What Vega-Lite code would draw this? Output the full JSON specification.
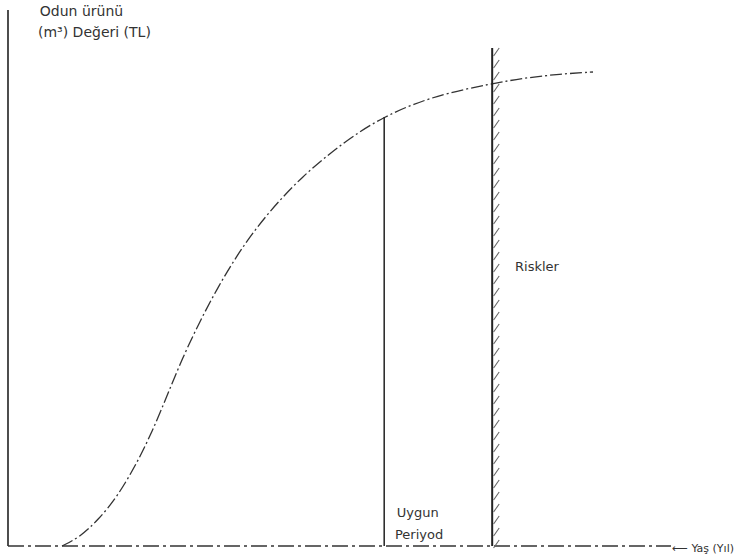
{
  "$schema": "https://vega.github.io/schema/vega-lite/v6.json",
  "width": 735,
  "height": 559,
  "autosize": {"type": "fit", "contains": "padding"},
  "padding": 0,
  "background": "white",
  "config": {"view": {"stroke": null}},
  "encoding": {
    "x": {"field": "age", "type": "quantitative", "scale": {"domain": [-1.333, 121.17], "nice": false, "zero": false}, "axis": null},
    "y": {"field": "value", "type": "quantitative", "scale": {"domain": [-2.6, 109.2], "nice": false, "zero": false}, "axis": null}
  },
  "layer": [
    {
      "data": {"values": [{"age": 0, "value": 0, "value2": 107.2}]},
      "mark": {"type": "rule", "color": "#222", "strokeWidth": 1.6},
      "encoding": {"y2": {"field": "value2"}}
    },
    {
      "data": {"values": [{"age": 0, "age2": 110.5, "value": 0}]},
      "mark": {"type": "rule", "color": "#333", "strokeWidth": 1.4, "strokeDash": [16, 4, 3, 4]},
      "encoding": {"x2": {"field": "age2"}}
    },
    {
      "data": {"values": [
        {"age": 9.0, "value": 0},
        {"age": 12.0, "value": 1.8},
        {"age": 15.0, "value": 5.2},
        {"age": 18.2, "value": 9.8},
        {"age": 21.5, "value": 16.6},
        {"age": 24.0, "value": 22.8},
        {"age": 26.5, "value": 30.0},
        {"age": 29.0, "value": 37.4},
        {"age": 32.0, "value": 45.0},
        {"age": 35.0, "value": 51.8},
        {"age": 38.2, "value": 58.2},
        {"age": 41.5, "value": 63.8},
        {"age": 45.0, "value": 68.8},
        {"age": 49.0, "value": 73.8},
        {"age": 53.7, "value": 78.6},
        {"age": 58.2, "value": 82.6},
        {"age": 62.7, "value": 85.8},
        {"age": 67.5, "value": 88.4},
        {"age": 73.2, "value": 90.6},
        {"age": 80.3, "value": 92.4},
        {"age": 86.0, "value": 93.6},
        {"age": 92.0, "value": 94.4},
        {"age": 97.5, "value": 94.8}
      ]},
      "mark": {"type": "line", "interpolate": "basis", "color": "#333", "strokeWidth": 1.3, "strokeDash": [12, 3, 2, 3]},
      "encoding": {"order": {"field": "age", "type": "quantitative"}}
    },
    {
      "data": {"values": [{"age": 62.7, "value": 0, "value2": 85.8}]},
      "mark": {"type": "rule", "color": "#222", "strokeWidth": 1.5},
      "encoding": {"y2": {"field": "value2"}}
    },
    {
      "data": {"values": [{"age": 80.7, "value": 0, "value2": 99.6}]},
      "mark": {"type": "rule", "color": "#222", "strokeWidth": 2},
      "encoding": {"y2": {"field": "value2"}}
    },
    {
      "data": {"values": [
        {"age": 81.4, "value": 98.8}, {"age": 81.4, "value": 96.4}, {"age": 81.4, "value": 94.0}, {"age": 81.4, "value": 91.6},
        {"age": 81.4, "value": 89.2}, {"age": 81.4, "value": 86.8}, {"age": 81.4, "value": 84.4}, {"age": 81.4, "value": 82.0},
        {"age": 81.4, "value": 79.6}, {"age": 81.4, "value": 77.2}, {"age": 81.4, "value": 74.8}, {"age": 81.4, "value": 72.4},
        {"age": 81.4, "value": 70.0}, {"age": 81.4, "value": 67.6}, {"age": 81.4, "value": 65.2}, {"age": 81.4, "value": 62.8},
        {"age": 81.4, "value": 60.4}, {"age": 81.4, "value": 58.0}, {"age": 81.4, "value": 55.6}, {"age": 81.4, "value": 53.2},
        {"age": 81.4, "value": 50.8}, {"age": 81.4, "value": 48.4}, {"age": 81.4, "value": 46.0}, {"age": 81.4, "value": 43.6},
        {"age": 81.4, "value": 41.2}, {"age": 81.4, "value": 38.8}, {"age": 81.4, "value": 36.4}, {"age": 81.4, "value": 34.0},
        {"age": 81.4, "value": 31.6}, {"age": 81.4, "value": 29.2}, {"age": 81.4, "value": 26.8}, {"age": 81.4, "value": 24.4},
        {"age": 81.4, "value": 22.0}, {"age": 81.4, "value": 19.6}, {"age": 81.4, "value": 17.2}, {"age": 81.4, "value": 14.8},
        {"age": 81.4, "value": 12.4}, {"age": 81.4, "value": 10.0}, {"age": 81.4, "value": 7.6}, {"age": 81.4, "value": 5.2},
        {"age": 81.4, "value": 2.8}, {"age": 81.4, "value": 0.4}
      ]},
      "mark": {"type": "point", "shape": "M-0.7,1L0.7,-1", "size": 64, "filled": false, "stroke": "#666", "strokeWidth": 1.1, "opacity": 1}
    },
    {
      "data": {"values": [
        {"age": 5.3, "value": 106.8, "label": "Odun  ürünü"},
        {"age": 5.0, "value": 102.6, "label": "(m³)  Değeri (TL)"}
      ]},
      "mark": {"type": "text", "align": "left", "baseline": "middle", "font": "DejaVu Sans", "fontSize": 14, "color": "#333"},
      "encoding": {"text": {"field": "label"}}
    },
    {
      "data": {"values": [
        {"age": 84.5, "value": 55.8, "label": "Riskler"},
        {"age": 64.8, "value": 6.6, "label": "Uygun"},
        {"age": 64.5, "value": 2.2, "label": "Periyod"}
      ]},
      "mark": {"type": "text", "align": "left", "baseline": "middle", "font": "DejaVu Sans", "fontSize": 13, "color": "#333"},
      "encoding": {"text": {"field": "label"}}
    },
    {
      "data": {"values": [{"age": 121.0, "value": -0.6, "label": "⟵ Yaş (Yıl)"}]},
      "mark": {"type": "text", "align": "right", "baseline": "middle", "font": "DejaVu Sans", "fontSize": 11, "color": "#333"},
      "encoding": {"text": {"field": "label"}}
    }
  ]
}
